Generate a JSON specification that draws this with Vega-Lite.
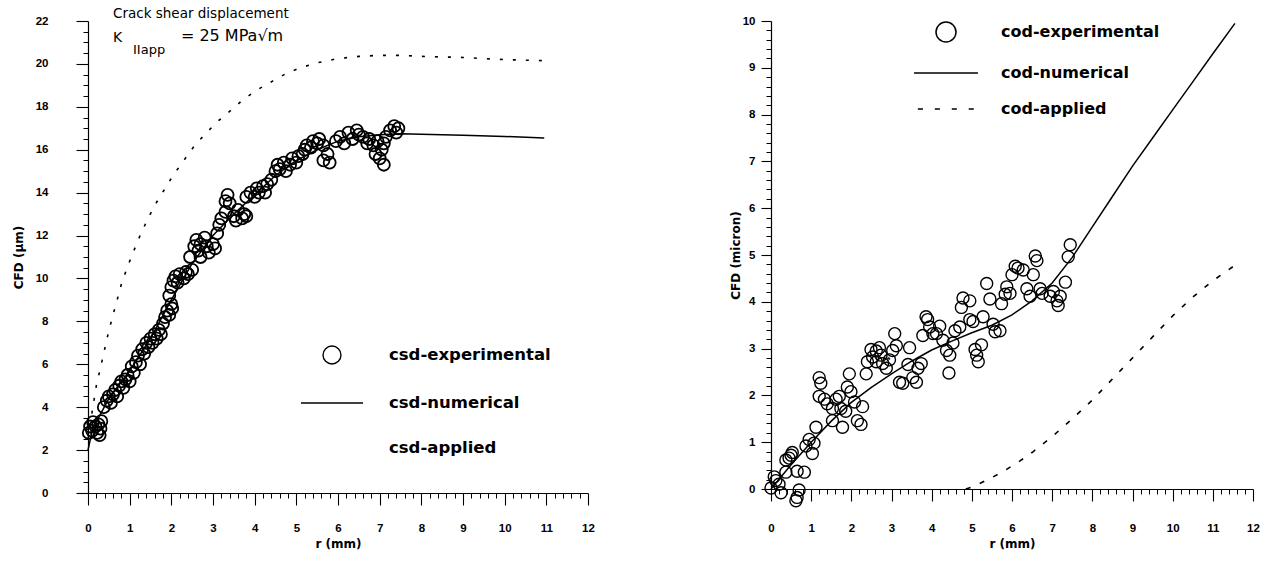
{
  "$schema": "https://vega.github.io/schema/vega-lite/v6.json",
  "background": "white",
  "padding": {"left": 12, "top": 5, "right": 14, "bottom": 2},
  "spacing": 134,
  "resolve": {"scale": {"shape": "independent"}, "legend": {"shape": "independent"}},
  "config": {
    "view": {"stroke": null},
    "axis": {"grid": false, "domainColor": "black", "tickColor": "black", "labelColor": "black", "titleColor": "black", "labelFont": "Liberation Sans", "labelFontWeight": "bold", "labelFontSize": 11.5, "titleFont": "DejaVu Sans", "titleFontWeight": "bold", "titleFontSize": 12, "domainWidth": 1.2, "tickWidth": 1.1, "labelOverlap": false, "labelFlush": false},
    "legend": {"labelColor": "black", "labelFont": "DejaVu Sans", "labelFontWeight": "bold", "labelLimit": 400, "padding": 0, "symbolStrokeColor": "black", "symbolFillColor": "transparent"}
  },
  "datasets": {
    "leftExp": [
      {"r":0.02,"cfd":2.8},{"r":0.05,"cfd":3.1},{"r":0.1,"cfd":2.9},{"r":0.12,"cfd":3.3},{"r":0.18,"cfd":3.1},{"r":0.22,"cfd":2.8},{"r":0.25,"cfd":3.2},{"r":0.3,"cfd":3.0},{"r":0.32,"cfd":3.35},{"r":0.28,"cfd":2.7},
      {"r":0.38,"cfd":4.0},{"r":0.45,"cfd":4.3},{"r":0.5,"cfd":4.5},{"r":0.55,"cfd":4.2},{"r":0.6,"cfd":4.6},{"r":0.65,"cfd":4.8},{"r":0.7,"cfd":4.5},{"r":0.75,"cfd":5.0},{"r":0.8,"cfd":5.2},{"r":0.85,"cfd":4.9},{"r":0.9,"cfd":5.3},{"r":0.95,"cfd":5.5},{"r":1.0,"cfd":5.2},
      {"r":1.05,"cfd":5.9},{"r":1.1,"cfd":5.6},{"r":1.15,"cfd":6.1},{"r":1.2,"cfd":6.4},{"r":1.25,"cfd":6.0},{"r":1.3,"cfd":6.7},{"r":1.35,"cfd":6.5},{"r":1.4,"cfd":7.0},{"r":1.45,"cfd":6.8},{"r":1.5,"cfd":7.2},{"r":1.55,"cfd":7.0},{"r":1.6,"cfd":7.4},{"r":1.65,"cfd":7.2},{"r":1.7,"cfd":7.6},{"r":1.75,"cfd":7.4},
      {"r":1.8,"cfd":7.9},{"r":1.85,"cfd":8.2},{"r":1.9,"cfd":8.5},{"r":1.95,"cfd":8.3},{"r":2.0,"cfd":8.8},{"r":2.02,"cfd":8.6},
      {"r":1.95,"cfd":9.2},{"r":2.0,"cfd":9.6},{"r":2.05,"cfd":9.9},{"r":2.1,"cfd":10.1},{"r":2.15,"cfd":9.8},{"r":2.2,"cfd":10.2},{"r":2.3,"cfd":10.0},{"r":2.35,"cfd":10.3},{"r":2.4,"cfd":10.2},{"r":2.5,"cfd":10.4},
      {"r":2.45,"cfd":11.0},{"r":2.55,"cfd":11.5},{"r":2.6,"cfd":11.8},{"r":2.65,"cfd":11.3},{"r":2.7,"cfd":11.6},{"r":2.8,"cfd":11.9},{"r":2.85,"cfd":11.5},{"r":2.9,"cfd":11.2},{"r":3.0,"cfd":11.6},{"r":3.05,"cfd":11.4},{"r":2.7,"cfd":11.0},
      {"r":3.1,"cfd":12.1},{"r":3.15,"cfd":12.5},{"r":3.2,"cfd":12.8},{"r":3.3,"cfd":13.1},{"r":3.3,"cfd":13.6},{"r":3.35,"cfd":13.9},{"r":3.4,"cfd":13.5},
      {"r":3.5,"cfd":12.9},{"r":3.55,"cfd":12.7},{"r":3.6,"cfd":13.2},{"r":3.7,"cfd":12.8},{"r":3.75,"cfd":13.0},{"r":3.8,"cfd":12.9},
      {"r":3.8,"cfd":13.8},{"r":3.9,"cfd":14.0},{"r":4.0,"cfd":13.8},{"r":4.05,"cfd":14.2},{"r":4.1,"cfd":14.0},{"r":4.2,"cfd":14.3},{"r":4.25,"cfd":14.0},{"r":4.3,"cfd":14.4},{"r":4.4,"cfd":14.6},
      {"r":4.5,"cfd":15.0},{"r":4.55,"cfd":15.3},{"r":4.6,"cfd":15.1},{"r":4.7,"cfd":15.4},{"r":4.75,"cfd":15.0},{"r":4.85,"cfd":15.3},{"r":4.9,"cfd":15.6},{"r":5.0,"cfd":15.4},{"r":5.05,"cfd":15.7},{"r":5.15,"cfd":15.8},
      {"r":5.2,"cfd":16.0},{"r":5.25,"cfd":16.2},{"r":5.35,"cfd":16.1},{"r":5.4,"cfd":16.4},{"r":5.5,"cfd":16.3},{"r":5.55,"cfd":16.5},{"r":5.65,"cfd":16.2},{"r":5.65,"cfd":15.5},{"r":5.75,"cfd":15.8},{"r":5.8,"cfd":15.4},
      {"r":5.95,"cfd":16.4},{"r":6.05,"cfd":16.6},{"r":6.15,"cfd":16.3},{"r":6.25,"cfd":16.8},{"r":6.35,"cfd":16.5},{"r":6.45,"cfd":16.9},{"r":6.5,"cfd":16.7},
      {"r":6.6,"cfd":16.6},{"r":6.7,"cfd":16.3},{"r":6.75,"cfd":16.5},{"r":6.85,"cfd":16.2},{"r":6.95,"cfd":16.4},{"r":7.05,"cfd":16.0},{"r":7.1,"cfd":16.3},{"r":7.15,"cfd":16.6},{"r":6.9,"cfd":15.8},{"r":7.0,"cfd":15.6},{"r":7.1,"cfd":15.3},
      {"r":7.25,"cfd":16.9},{"r":7.35,"cfd":17.1},{"r":7.4,"cfd":16.8},{"r":7.45,"cfd":17.0}
    ],
    "leftNum": [
      {"r":0,"cfd":2.0},{"r":0.1,"cfd":2.9},{"r":0.25,"cfd":3.5},{"r":0.5,"cfd":4.4},{"r":1,"cfd":5.7},{"r":1.5,"cfd":7.2},{"r":2,"cfd":9.0},{"r":2.5,"cfd":10.7},{"r":3,"cfd":12.0},{"r":3.5,"cfd":13.0},{"r":4,"cfd":13.9},{"r":4.5,"cfd":14.8},{"r":5,"cfd":15.5},{"r":5.5,"cfd":16.0},{"r":6,"cfd":16.4},{"r":6.5,"cfd":16.6},{"r":7,"cfd":16.7},{"r":7.5,"cfd":16.75},{"r":8,"cfd":16.72},{"r":9,"cfd":16.68},{"r":10,"cfd":16.62},{"r":10.95,"cfd":16.55}
    ],
    "leftApp": [
      {"r":0,"cfd":2.5},{"r":0.1,"cfd":3.8},{"r":0.2,"cfd":5.0},{"r":0.33,"cfd":6.1},{"r":0.48,"cfd":7.4},{"r":0.6,"cfd":8.3},{"r":0.7,"cfd":9.0},{"r":0.81,"cfd":9.8},{"r":0.96,"cfd":10.6},{"r":1.08,"cfd":11.2},{"r":1.25,"cfd":12.0},{"r":1.44,"cfd":12.8},{"r":1.63,"cfd":13.5},{"r":1.82,"cfd":14.1},{"r":2.04,"cfd":14.8},{"r":2.3,"cfd":15.5},{"r":2.56,"cfd":16.2},{"r":2.8,"cfd":16.7},{"r":3.1,"cfd":17.3},{"r":3.47,"cfd":17.9},{"r":3.7,"cfd":18.3},{"r":4.07,"cfd":18.8},{"r":4.43,"cfd":19.2},{"r":4.8,"cfd":19.6},{"r":5.15,"cfd":19.85},{"r":5.5,"cfd":20.05},{"r":6,"cfd":20.25},{"r":6.5,"cfd":20.35},{"r":7,"cfd":20.4},{"r":7.5,"cfd":20.4},{"r":8,"cfd":20.35},{"r":9,"cfd":20.3},{"r":10,"cfd":20.2},{"r":10.95,"cfd":20.15}
    ],
    "rightExp": [
      {"r":0,"cfd":0.02},{"r":0.12,"cfd":0.18},{"r":0.25,"cfd":-0.08},{"r":0.08,"cfd":0.26},{"r":0.37,"cfd":0.36},{"r":0.45,"cfd":0.66},{"r":0.53,"cfd":0.78},{"r":0.65,"cfd":0.38},{"r":0.83,"cfd":0.36},{"r":0.7,"cfd":-0.02},{"r":0.65,"cfd":-0.18},{"r":0.62,"cfd":-0.25},{"r":0.5,"cfd":0.72},{"r":0.37,"cfd":0.62},{"r":0.87,"cfd":0.92},{"r":0.95,"cfd":1.06},{"r":1.07,"cfd":0.98},{"r":1.03,"cfd":0.76},{"r":1.12,"cfd":1.32},{"r":1.2,"cfd":1.98},{"r":1.2,"cfd":2.38},{"r":1.24,"cfd":2.26},{"r":1.33,"cfd":1.92},{"r":1.4,"cfd":1.82},{"r":1.53,"cfd":1.72},{"r":1.53,"cfd":1.46},{"r":1.62,"cfd":1.92},{"r":1.7,"cfd":1.98},{"r":1.74,"cfd":1.72},{"r":1.78,"cfd":1.32},{"r":1.86,"cfd":1.66},{"r":1.9,"cfd":2.18},{"r":1.95,"cfd":2.46},{"r":1.99,"cfd":2.08},{"r":2.08,"cfd":1.86},{"r":2.15,"cfd":1.46},{"r":2.24,"cfd":1.38},{"r":2.28,"cfd":1.76},{"r":2.37,"cfd":2.46},{"r":2.4,"cfd":2.72},{"r":2.49,"cfd":2.98},{"r":2.53,"cfd":2.82},{"r":2.62,"cfd":2.72},{"r":2.7,"cfd":3.02},{"r":2.74,"cfd":2.86},{"r":2.78,"cfd":2.68},{"r":2.87,"cfd":2.58},{"r":2.95,"cfd":2.76},{"r":3.03,"cfd":2.96},{"r":3.08,"cfd":3.32},{"r":3.12,"cfd":3.06},{"r":3.2,"cfd":2.28},{"r":3.28,"cfd":2.26},{"r":3.41,"cfd":2.66},{"r":3.45,"cfd":3.02},{"r":3.53,"cfd":2.38},{"r":3.62,"cfd":2.28},{"r":3.66,"cfd":2.58},{"r":3.74,"cfd":2.68},{"r":3.78,"cfd":3.28},{"r":3.86,"cfd":3.68},{"r":3.95,"cfd":3.46},{"r":4.03,"cfd":3.32},{"r":4.12,"cfd":3.32},{"r":4.2,"cfd":3.48},{"r":4.28,"cfd":3.18},{"r":4.37,"cfd":2.96},{"r":4.45,"cfd":2.86},{"r":4.43,"cfd":2.48},{"r":4.53,"cfd":3.12},{"r":4.58,"cfd":3.38},{"r":4.7,"cfd":3.46},{"r":4.74,"cfd":3.88},{"r":4.78,"cfd":4.08},{"r":4.95,"cfd":4.02},{"r":4.95,"cfd":3.62},{"r":5.03,"cfd":3.58},{"r":5.08,"cfd":2.98},{"r":5.12,"cfd":2.86},{"r":5.16,"cfd":2.72},{"r":5.24,"cfd":3.08},{"r":5.28,"cfd":3.68},{"r":5.37,"cfd":4.39},{"r":5.45,"cfd":4.06},{"r":5.53,"cfd":3.52},{"r":5.58,"cfd":3.36},{"r":5.7,"cfd":3.38},{"r":5.74,"cfd":3.96},{"r":5.83,"cfd":4.16},{"r":5.87,"cfd":4.32},{"r":5.95,"cfd":4.18},{"r":6.0,"cfd":4.58},{"r":6.08,"cfd":4.76},{"r":6.15,"cfd":4.72},{"r":6.28,"cfd":4.68},{"r":6.37,"cfd":4.28},{"r":6.45,"cfd":4.12},{"r":6.53,"cfd":4.58},{"r":6.58,"cfd":4.98},{"r":6.62,"cfd":4.88},{"r":6.7,"cfd":4.28},{"r":6.75,"cfd":4.18},{"r":6.95,"cfd":4.12},{"r":7.03,"cfd":4.22},{"r":7.12,"cfd":4.02},{"r":7.15,"cfd":3.92},{"r":7.2,"cfd":4.12},{"r":7.33,"cfd":4.42},{"r":7.4,"cfd":4.96},{"r":7.45,"cfd":5.22},{"r":3.9,"cfd":3.62},{"r":2.62,"cfd":2.95},{"r":0.2,"cfd":0.1}
    ],
    "rightNum": [
      {"r":0,"cfd":0},{"r":0.5,"cfd":0.52},{"r":1,"cfd":1.0},{"r":1.5,"cfd":1.45},{"r":2,"cfd":1.85},{"r":2.5,"cfd":2.17},{"r":3,"cfd":2.46},{"r":3.5,"cfd":2.73},{"r":4,"cfd":2.97},{"r":4.5,"cfd":3.16},{"r":5,"cfd":3.34},{"r":5.5,"cfd":3.5},{"r":6,"cfd":3.72},{"r":6.5,"cfd":4.02},{"r":7,"cfd":4.4},{"r":7.5,"cfd":4.95},{"r":8,"cfd":5.6},{"r":8.5,"cfd":6.25},{"r":9,"cfd":6.9},{"r":9.5,"cfd":7.5},{"r":10,"cfd":8.1},{"r":10.5,"cfd":8.7},{"r":11,"cfd":9.3},{"r":11.55,"cfd":9.95}
    ],
    "rightApp": [
      {"r":4.85,"cfd":0},{"r":5,"cfd":0.04},{"r":5.45,"cfd":0.22},{"r":5.83,"cfd":0.4},{"r":6.2,"cfd":0.6},{"r":6.53,"cfd":0.8},{"r":7,"cfd":1.12},{"r":7.5,"cfd":1.5},{"r":8,"cfd":1.9},{"r":8.5,"cfd":2.35},{"r":9,"cfd":2.8},{"r":9.5,"cfd":3.25},{"r":10,"cfd":3.7},{"r":10.5,"cfd":4.1},{"r":11,"cfd":4.45},{"r":11.55,"cfd":4.78}
    ]
  },
  "hconcat": [
    {
      "width": 500,
      "height": 472,
      "resolve": {"scale": {"x": "independent", "y": "independent"}},
      "layer": [
        {
          "data": {"name": "leftApp"},
          "mark": {"type": "line", "color": "black", "strokeWidth": 1.6, "strokeDash": [3, 10]},
          "encoding": {
            "x": {"field": "r", "type": "quantitative", "scale": {"domain": [0, 12], "nice": false, "zero": false},
              "axis": {"orient": "bottom", "values": [0,1,2,3,4,5,6,7,8,9,10,11,12], "title": "r (mm)", "tickSize": 12, "labelPadding": 17, "titlePadding": 5}},
            "y": {"field": "cfd", "type": "quantitative", "scale": {"domain": [0, 22], "nice": false, "zero": false},
              "axis": {"orient": "left", "values": [0,2,4,6,8,10,12,14,16,18,20,22], "title": "CFD (µm)", "tickSize": 12, "labelPadding": 28, "titlePadding": 10}}
          }
        },
        {
          "data": {"name": "leftNum"},
          "mark": {"type": "line", "color": "black", "strokeWidth": 1.5},
          "encoding": {
            "x": {"field": "r", "type": "quantitative", "scale": {"domain": [0, 12], "nice": false, "zero": false}, "axis": null},
            "y": {"field": "cfd", "type": "quantitative", "scale": {"domain": [0, 22], "nice": false, "zero": false}, "axis": null}
          }
        },
        {
          "data": {"name": "leftExp"},
          "mark": {"type": "point", "filled": false, "color": "black", "strokeWidth": 1.8, "opacity": 1},
          "encoding": {
            "x": {"field": "r", "type": "quantitative", "scale": {"domain": [0, 12], "nice": false, "zero": false}, "axis": null},
            "y": {"field": "cfd", "type": "quantitative", "scale": {"domain": [0, 22], "nice": false, "zero": false}, "axis": null},
            "size": {"value": 1712},
            "shape": {"datum": "csd-experimental", "type": "nominal",
              "scale": {"domain": ["csd-experimental", "csd-numerical", "csd-applied"], "range": ["M-0.29,0A0.29,0.29,0,1,1,0.29,0A0.29,0.29,0,1,1,-0.29,0Z", "M-1,0H1", "M0,0"]},
              "legend": {"orient": "none", "legendX": 212, "legendY": 302, "title": null, "symbolSize": 3844, "symbolStrokeWidth": 1.4, "labelFontSize": 16.5, "labelOffset": 25, "rowPadding": 4}}
          }
        },
        {
          "data": {"values": [{}]},
          "mark": {"type": "text", "align": "left", "baseline": "middle", "font": "DejaVu Sans", "fontSize": 13.5, "color": "black"},
          "encoding": {
            "x": {"datum": 3.0, "type": "quantitative", "scale": {"domain": [0, 60], "nice": false, "zero": false},
              "axis": {"orient": "bottom", "values": [1,2,3,4,6,7,8,9,11,12,13,14,16,17,18,19,21,22,23,24,26,27,28,29,31,32,33,34,36,37,38,39,41,42,43,44,46,47,48,49,51,52,53,54,56,57,58,59], "labels": false, "domain": false, "tickSize": 5, "tickWidth": 1, "title": null}},
            "y": {"datum": 44.66, "type": "quantitative", "scale": {"domain": [0, 44], "nice": false, "zero": false},
              "axis": {"orient": "left", "values": [1,2,3,5,6,7,9,10,11,13,14,15,17,18,19,21,22,23,25,26,27,29,30,31,33,34,35,37,38,39,41,42,43], "labels": false, "domain": false, "tickSize": 5, "tickWidth": 1, "title": null}},
            "text": {"value": "Crack shear displacement"}
          }
        },
        {
          "data": {"values": [{}]},
          "mark": {"type": "text", "align": "left", "baseline": "middle", "font": "DejaVu Sans", "fontSize": 14, "color": "black"},
          "encoding": {
            "x": {"datum": 0.6, "type": "quantitative", "scale": {"domain": [0, 12], "nice": false, "zero": false}, "axis": null},
            "y": {"datum": 21.2, "type": "quantitative", "scale": {"domain": [0, 22], "nice": false, "zero": false}, "axis": null},
            "text": {"value": "K"}
          }
        },
        {
          "data": {"values": [{}]},
          "mark": {"type": "text", "align": "left", "baseline": "middle", "font": "DejaVu Sans", "fontSize": 13, "color": "black"},
          "encoding": {
            "x": {"datum": 1.08, "type": "quantitative", "scale": {"domain": [0, 12], "nice": false, "zero": false}, "axis": null},
            "y": {"datum": 20.65, "type": "quantitative", "scale": {"domain": [0, 22], "nice": false, "zero": false}, "axis": null},
            "text": {"value": "IIapp"}
          }
        },
        {
          "data": {"values": [{}]},
          "mark": {"type": "text", "align": "left", "baseline": "middle", "font": "DejaVu Sans", "fontSize": 16, "color": "black"},
          "encoding": {
            "x": {"datum": 2.23, "type": "quantitative", "scale": {"domain": [0, 12], "nice": false, "zero": false}, "axis": null},
            "y": {"datum": 21.3, "type": "quantitative", "scale": {"domain": [0, 22], "nice": false, "zero": false}, "axis": null},
            "text": {"value": "= 25 MPa√m"}
          }
        }
      ]
    },
    {
      "width": 482,
      "height": 468,
      "resolve": {"scale": {"x": "independent", "y": "independent"}},
      "layer": [
        {
          "data": {"name": "rightApp"},
          "mark": {"type": "line", "color": "black", "strokeWidth": 1.6, "strokeDash": [5, 10]},
          "encoding": {
            "x": {"field": "r", "type": "quantitative", "scale": {"domain": [0, 12], "nice": false, "zero": false},
              "axis": {"orient": "bottom", "values": [0,1,2,3,4,5,6,7,8,9,10,11,12], "title": "r (mm)", "tickSize": 12, "labelPadding": 21, "titlePadding": 5}},
            "y": {"field": "cfd", "type": "quantitative", "scale": {"domain": [0, 10], "nice": false, "zero": false},
              "axis": {"orient": "left", "values": [0,1,2,3,4,5,6,7,8,9,10], "title": "CFD (micron)", "tickSize": 10, "labelPadding": 6, "titlePadding": 0}}
          }
        },
        {
          "data": {"name": "rightNum"},
          "mark": {"type": "line", "color": "black", "strokeWidth": 1.5},
          "encoding": {
            "x": {"field": "r", "type": "quantitative", "scale": {"domain": [0, 12], "nice": false, "zero": false}, "axis": null},
            "y": {"field": "cfd", "type": "quantitative", "scale": {"domain": [0, 10], "nice": false, "zero": false}, "axis": null}
          }
        },
        {
          "data": {"name": "rightExp"},
          "mark": {"type": "point", "filled": false, "color": "black", "strokeWidth": 1.4, "opacity": 1},
          "encoding": {
            "x": {"field": "r", "type": "quantitative", "scale": {"domain": [0, 12], "nice": false, "zero": false}, "axis": null},
            "y": {"field": "cfd", "type": "quantitative", "scale": {"domain": [0, 10], "nice": false, "zero": false}, "axis": null},
            "size": {"value": 973},
            "shape": {"datum": "cod-experimental", "type": "nominal",
              "scale": {"domain": ["cod-experimental", "cod-numerical", "cod-applied"], "range": ["M-0.3846,0A0.3846,0.3846,0,1,1,0.3846,0A0.3846,0.3846,0,1,1,-0.3846,0Z", "M-1.23,0H1.23", "M-1.083,0H-0.886M-0.43,0H-0.234M0.222,0H0.418M0.874,0H1.07"]},
              "legend": {"orient": "none", "legendX": 148, "legendY": -16, "title": null, "symbolSize": 2704, "symbolStrokeWidth": 1.5, "labelFontSize": 16, "labelOffset": 28, "rowPadding": 1}}
          }
        },
        {
          "data": {"values": [{}]},
          "mark": {"type": "text", "align": "left", "baseline": "middle", "font": "DejaVu Sans", "fontSize": 10, "color": "black"},
          "encoding": {
            "x": {"datum": 13.0, "type": "quantitative", "scale": {"domain": [0, 60], "nice": false, "zero": false},
              "axis": {"orient": "bottom", "values": [1,2,3,4,6,7,8,9,11,12,13,14,16,17,18,19,21,22,23,24,26,27,28,29,31,32,33,34,36,37,38,39,41,42,43,44,46,47,48,49,51,52,53,54,56,57,58,59], "labels": false, "domain": false, "tickSize": 5, "tickWidth": 1, "title": null}},
            "y": {"datum": 13.85, "type": "quantitative", "scale": {"domain": [0, 50], "nice": false, "zero": false},
              "axis": {"orient": "left", "values": [1,2,3,4,6,7,8,9,11,12,13,14,16,17,18,19,21,22,23,24,26,27,28,29,31,32,33,34,36,37,38,39,41,42,43,44,46,47,48,49], "labels": false, "domain": false, "tickSize": 5, "tickWidth": 1, "title": null}},
            "text": {"value": "-  →"}
          }
        }
      ]
    }
  ]
}
